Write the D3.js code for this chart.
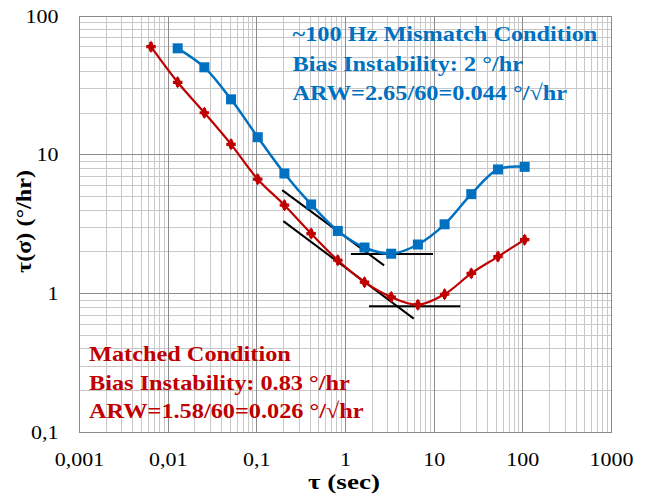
<!DOCTYPE html>
<meta charset="UTF-8">
<script src="https://d3js.org/d3.v7.min.js"></script>
<style>
  body { margin: 0; background: #fff; }
  text { font-family: "Liberation Serif", "Times New Roman", serif; }
</style>
<div id="chart"></div>
<script>

  // Data
  const blueTau = [0.0128, 0.0256, 0.0512, 0.1024, 0.2048, 0.4096, 0.8192, 1.6384, 3.2768, 6.5536, 13.1072, 26.2144, 52.4288, 104.8576];
  const blueSigma = [58.5, 42.7, 25.1, 13.4, 7.34, 4.39, 2.83, 2.15, 1.94, 2.26, 3.16, 5.21, 7.85, 8.19];

  const redTau = [0.0064, 0.0128, 0.0256, 0.0512, 0.1024, 0.2048, 0.4096, 0.8192, 1.6384, 3.2768, 6.5536, 13.1072, 26.2144, 52.4288, 104.8576];
  const redSigma = [60.1, 33.3, 20.1, 11.9, 6.68, 4.34, 2.71, 1.74, 1.21, 0.946, 0.832, 0.99, 1.40, 1.85, 2.45];

  // fitted lines [x1, y1, x2, y2]
  const blueArw = [0.193, 5.57, 2.72, 1.60];
  const blueBias = [1.15, 1.93, 9.7, 1.93];
  const redArw = [0.199, 3.33, 5.88, 0.661];
  const redBias = [1.84, 0.81, 19.7, 0.81];

  const xTicks = [0.001, 0.01, 0.1, 1, 10, 100, 1000];
  const xTickLabels = ["0,001", "0,01", "0,1", "1", "10", "100", "1000"];
  const yTicks = [0.1, 1, 10, 100];
  const yTickLabels = ["0,1", "1", "10", "100"];

  const blueNotes = ["~100 Hz Mismatch  Condition", "Bias Instability: 2 °/hr", "ARW=2.65/60=0.044 °/√hr"];
  const redNotes = ["Matched  Condition", "Bias Instability:  0.83 °/hr", "ARW=1.58/60=0.026 °/√hr"];

  const W = 646, H = 496;
  const blue = "#0070C0", red = "#C00000";

  const svg = d3.select("#chart")
    .append("svg")
    .attr("width", W)
    .attr("height", H);

  const x = d3.scaleLog()
    .domain([0.001, 1000])
    .range([79.5, 611.5]);

  const y = d3.scaleLog()
    .domain([0.1, 100])
    .range([432.5, 16]);

  // stretch text horizontally so a reference label gets the wanted width
  function stretchTo(sel, refNode, width) {
    const k = width / refNode.getComputedTextLength();
    sel.each(function() {
      const t = d3.select(this);
      t.attr("transform", t.attr("transform") + ` scale(${k},1)`);
    });
  }

  // Grid: minor lines first, then major ones
  const minorX = [], minorY = [];
  for (let e = -3; e < 3; e++) for (let m = 2; m <= 9; m++) minorX.push(m * Math.pow(10, e));
  for (let e = -1; e < 2; e++) for (let m = 2; m <= 9; m++) minorY.push(m * Math.pow(10, e));

  const grid = svg.append("g").attr("shape-rendering", "crispEdges");

  grid.selectAll(".vmin")
    .data(minorX)
    .join("line")
    .attr("x1", d => x(d)).attr("x2", d => x(d))
    .attr("y1", y(100)).attr("y2", y(0.1))
    .attr("stroke", "#c8c8c8");

  grid.selectAll(".hmin")
    .data(minorY)
    .join("line")
    .attr("y1", d => y(d)).attr("y2", d => y(d))
    .attr("x1", x(0.001)).attr("x2", x(1000))
    .attr("stroke", "#c8c8c8");

  grid.selectAll(".vmaj")
    .data(xTicks)
    .join("line")
    .attr("x1", d => x(d)).attr("x2", d => x(d))
    .attr("y1", y(100)).attr("y2", y(0.1))
    .attr("stroke", "#8c8c8c");

  grid.selectAll(".hmaj")
    .data(yTicks)
    .join("line")
    .attr("y1", d => y(d)).attr("y2", d => y(d))
    .attr("x1", x(0.001)).attr("x2", x(1000))
    .attr("stroke", "#8c8c8c");

  // Tick labels
  const xLab = svg.append("g")
    .selectAll("text")
    .data(xTicks)
    .join("text")
    .attr("transform", d => `translate(${x(d)},465.5)`)
    .attr("text-anchor", "middle")
    .style("font-size", "19.5px")
    .text((d, i) => xTickLabels[i]);

  const yLab = svg.append("g")
    .selectAll("text")
    .data(yTicks)
    .join("text")
    .attr("transform", d => `translate(58.5,${y(d) + 6.5})`)
    .attr("text-anchor", "end")
    .style("font-size", "19.5px")
    .text((d, i) => yTickLabels[i]);

  const tickRef = xLab.nodes()[6];
  const kTick = 44 / tickRef.getComputedTextLength();
  stretchTo(xLab, tickRef, 44);
  yLab.each(function() {
    const t = d3.select(this);
    t.attr("transform", t.attr("transform") + ` scale(${kTick},1)`);
  });

  // Axis titles
  const xTitle = svg.append("text")
    .attr("transform", "translate(344,488.5)")
    .attr("text-anchor", "middle")
    .style("font-size", "21px")
    .style("font-weight", "bold")
    .text("τ (sec)");
  stretchTo(xTitle, xTitle.node(), 72);

  const yTitle = svg.append("text")
    .attr("transform", "translate(31,221.5) rotate(-90)")
    .attr("text-anchor", "middle")
    .style("font-size", "21px")
    .style("font-weight", "bold")
    .text("τ(σ) (°/hr)");
  stretchTo(yTitle, yTitle.node(), 103);

  // Fitted black lines
  const fits = [blueArw, blueBias, redArw, redBias];
  svg.append("g")
    .selectAll("line")
    .data(fits)
    .join("line")
    .attr("x1", d => x(d[0])).attr("y1", d => y(d[1]))
    .attr("x2", d => x(d[2])).attr("y2", d => y(d[3]))
    .attr("stroke", "#000")
    .attr("stroke-width", 2);

  const line = d3.line()
    .x(d => x(d[0]))
    .y(d => y(d[1]))
    .curve(d3.curveCatmullRom.alpha(0.5));

  const bluePts = blueTau.map((t, i) => [t, blueSigma[i]]);
  const redPts = redTau.map((t, i) => [t, redSigma[i]]);

  // Red series
  svg.append("path")
    .datum(redPts)
    .attr("d", line)
    .attr("fill", "none")
    .attr("stroke", red)
    .attr("stroke-width", 2.2);

  const redMarks = svg.append("g")
    .selectAll("g")
    .data(redPts)
    .join("g")
    .attr("transform", d => `translate(${x(d[0])},${y(d[1])})`);

  redMarks.append("path")
    .attr("d", d3.symbol(d3.symbolDiamond, 45))
    .attr("fill", red);

  redMarks.append("path")
    .attr("d", d3.symbol(d3.symbolCross, 50))
    .attr("fill", red);

  // Blue series
  svg.append("path")
    .datum(bluePts)
    .attr("d", line)
    .attr("fill", "none")
    .attr("stroke", blue)
    .attr("stroke-width", 2.5);

  svg.append("g")
    .selectAll("rect")
    .data(bluePts)
    .join("rect")
    .attr("x", d => x(d[0]) - 5)
    .attr("y", d => y(d[1]) - 5)
    .attr("width", 10)
    .attr("height", 10)
    .attr("fill", blue);

  // Annotations
  const blueText = svg.append("g")
    .selectAll("text")
    .data(blueNotes)
    .join("text")
    .attr("transform", (d, i) => `translate(292.5,${41 + i * 29.5})`)
    .attr("fill", blue)
    .style("font-size", "22px")
    .style("font-weight", "bold")
    .text(d => d);

  const redText = svg.append("g")
    .selectAll("text")
    .data(redNotes)
    .join("text")
    .attr("transform", (d, i) => `translate(89,${361 + i * 28.5})`)
    .attr("fill", red)
    .style("font-size", "22px")
    .style("font-weight", "bold")
    .text(d => d);

  const noteRef = blueText.nodes()[0];
  const kNote = 305 / noteRef.getComputedTextLength();
  [blueText, redText].forEach(sel => sel.each(function() {
    const t = d3.select(this);
    t.attr("transform", t.attr("transform") + ` scale(${kNote},1)`);
  }));

  // Plot frame
  svg.append("rect")
    .attr("x", x(0.001))
    .attr("y", y(100))
    .attr("width", x(1000) - x(0.001))
    .attr("height", y(0.1) - y(100))
    .attr("fill", "none")
    .attr("stroke", "#8c8c8c")
    .attr("shape-rendering", "crispEdges");

</script>
